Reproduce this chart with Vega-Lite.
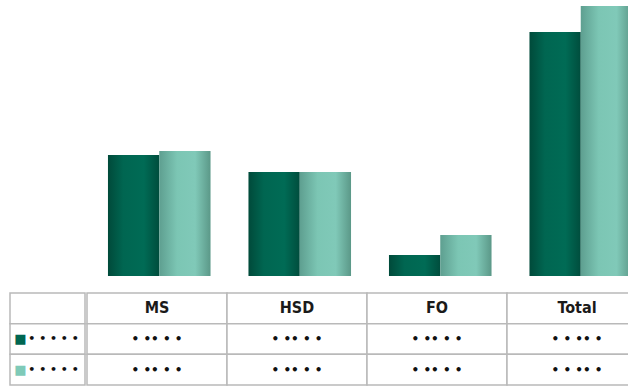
{
  "$schema": "https://vega.github.io/schema/vega-lite/v6.json",
  "background": "white",
  "padding": {"left": 9, "top": 0, "right": 0, "bottom": 0},
  "config": {"view": {"stroke": null}, "concat": {"spacing": 0}},
  "datasets": {
    "bars": [
      {"cat": "MS", "series": "A", "value": 121},
      {"cat": "MS", "series": "B", "value": 125},
      {"cat": "HSD", "series": "A", "value": 104},
      {"cat": "HSD", "series": "B", "value": 104},
      {"cat": "FO", "series": "A", "value": 21},
      {"cat": "FO", "series": "B", "value": 41},
      {"cat": "Total", "series": "A", "value": 244},
      {"cat": "Total", "series": "B", "value": 270}
    ],
    "table": [
      {"row": "head", "cat": "MS", "text": "MS"},
      {"row": "head", "cat": "HSD", "text": "HSD"},
      {"row": "head", "cat": "FO", "text": "FO"},
      {"row": "head", "cat": "Total", "text": "Total"},
      {"row": "A", "cat": "MS", "text": "• •• • •"},
      {"row": "A", "cat": "HSD", "text": "• •• • •"},
      {"row": "A", "cat": "FO", "text": "• •• • •"},
      {"row": "A", "cat": "Total", "text": "• • •• •"},
      {"row": "B", "cat": "MS", "text": "• •• • •"},
      {"row": "B", "cat": "HSD", "text": "• •• • •"},
      {"row": "B", "cat": "FO", "text": "• •• • •"},
      {"row": "B", "cat": "Total", "text": "• • •• •"}
    ],
    "labels": [
      {"row": "head", "label": ""},
      {"row": "A", "label": "• • • • •"},
      {"row": "B", "label": "• • • • •"}
    ]
  },
  "vconcat": [
    {
      "spacing": 0,
      "hconcat": [
        {
          "width": 79,
          "height": 276,
          "data": {"values": [{}]},
          "mark": {"type": "text", "text": ""},
          "encoding": {}
        },
        {
          "width": 562,
          "height": 276,
          "data": {"name": "bars"},
          "encoding": {
            "x": {"field": "cat", "type": "nominal", "scale": {"domain": ["MS", "HSD", "FO", "Total"], "paddingInner": 0.27, "paddingOuter": 0.135}, "axis": null},
            "xOffset": {"field": "series", "type": "nominal", "scale": {"domain": ["A", "B"]}},
            "y": {"field": "value", "type": "quantitative", "scale": {"domain": [0, 276]}, "axis": null}
          },
          "layer": [
            {
              "transform": [{"filter": "datum.series === 'A'"}],
              "mark": {"type": "bar", "color": {"gradient": "linear", "x1": 0, "x2": 1, "y1": 0, "y2": 0, "stops": [
                {"offset": 0, "color": "#004a3a"},
                {"offset": 0.3, "color": "#006651"},
                {"offset": 0.7, "color": "#006b55"},
                {"offset": 1, "color": "#004d3d"}
              ]}}
            },
            {
              "transform": [{"filter": "datum.series === 'B'"}],
              "mark": {"type": "bar", "color": {"gradient": "linear", "x1": 0, "x2": 1, "y1": 0, "y2": 0, "stops": [
                {"offset": 0, "color": "#5e9f90"},
                {"offset": 0.35, "color": "#7cc6b4"},
                {"offset": 0.7, "color": "#80c9b8"},
                {"offset": 1, "color": "#5b9888"}
              ]}}
            }
          ]
        }
      ]
    },
    {
      "spacing": 0,
      "hconcat": [
        {
          "width": 75,
          "height": 92,
          "data": {"name": "labels"},
          "encoding": {
            "y": {"field": "row", "type": "nominal", "scale": {"domain": ["head", "A", "B"]}, "axis": null}
          },
          "layer": [
            {"mark": {"type": "rect", "fill": "white", "stroke": "#b9b9b9", "strokeWidth": 1.5}},
            {
              "transform": [{"filter": "datum.row !== 'head'"}],
              "mark": {"type": "text", "text": "■", "fontSize": 13, "font": "DejaVu Sans", "dx": -27},
              "encoding": {
                "color": {"field": "row", "type": "nominal", "scale": {"domain": ["A", "B"], "range": ["#006651", "#7fcab8"]}, "legend": null}
              }
            },
            {
              "transform": [{"filter": "datum.row !== 'head'"}],
              "mark": {"type": "text", "font": "DejaVu Sans", "fontWeight": "bold", "fontSize": 11, "color": "#111111", "dx": 6},
              "encoding": {"text": {"field": "label"}}
            }
          ]
        },
        {
          "width": 560,
          "height": 92,
          "data": {"name": "table"},
          "encoding": {
            "x": {"field": "cat", "type": "nominal", "scale": {"domain": ["MS", "HSD", "FO", "Total"], "paddingInner": 0, "paddingOuter": 0}, "axis": null},
            "y": {"field": "row", "type": "nominal", "scale": {"domain": ["head", "A", "B"]}, "axis": null}
          },
          "layer": [
            {"mark": {"type": "rect", "fill": "white", "stroke": "#b9b9b9", "strokeWidth": 1.5}},
            {
              "transform": [{"filter": "datum.row === 'head'"}],
              "mark": {"type": "text", "font": "DejaVu Sans Condensed, DejaVu Sans, sans-serif", "fontWeight": "bold", "fontSize": 16, "color": "#1a1a1a"},
              "encoding": {"text": {"field": "text"}}
            },
            {
              "transform": [{"filter": "datum.row !== 'head'"}],
              "mark": {"type": "text", "font": "DejaVu Sans", "fontWeight": "bold", "fontSize": 12, "color": "#111111"},
              "encoding": {"text": {"field": "text"}}
            }
          ]
        }
      ]
    }
  ],
  "spacing": 16
}
